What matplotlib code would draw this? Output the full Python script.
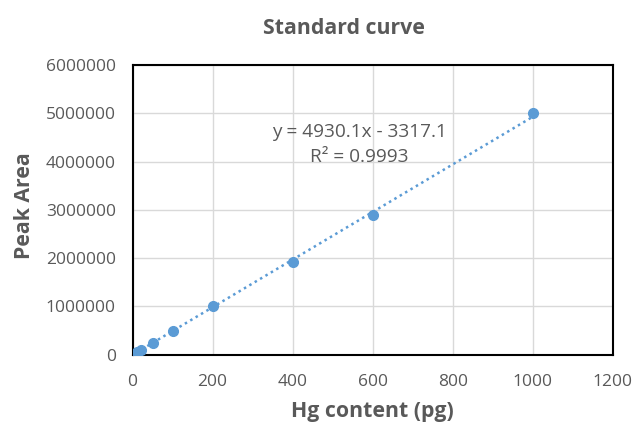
import matplotlib
matplotlib.use("Agg")
import matplotlib.pyplot as plt
import numpy as np

plt.rcParams['font.family'] = ['Open Sans', 'DejaVu Sans']

hg_content = [10, 20, 50, 100, 200, 400, 600, 1000]
peak_area = [50000, 100000, 250000, 500000, 1000000, 1910000, 2900000, 5000000]
slope = 4930.1
intercept = -3317.1
r_squared = 0.9993

x_ticks = [0, 200, 400, 600, 800, 1000, 1200]
y_ticks = [0, 1000000, 2000000, 3000000, 4000000, 5000000, 6000000]

blue = '#5B9BD5'
gray = '#595959'

fig = plt.figure(figsize=(6.32, 4.26), dpi=100)
ax = fig.add_axes([0.2097, 0.1674, 0.7598, 0.68])

xs = np.array([min(hg_content), max(hg_content)])
ax.plot(xs, slope * xs + intercept, linestyle=(0, (1, 1.5)), color=blue, linewidth=1.8, zorder=2)
ax.plot(hg_content, peak_area, 'o', color=blue, markersize=7, zorder=3)

ax.set_xlim(0, 1200)
ax.set_ylim(0, 6000000)
ax.set_xticks(x_ticks)
ax.set_yticks(y_ticks)
ax.set_xticklabels([str(t) for t in x_ticks])
ax.set_yticklabels([str(t) for t in y_ticks])
ax.grid(True, color='#D9D9D9', linewidth=1)
ax.set_axisbelow(True)
for s in ax.spines.values():
    s.set_color('black')
    s.set_linewidth(1.5)
ax.tick_params(length=0, labelsize=12.5, labelcolor=gray)
ax.tick_params(axis='x', pad=14)
ax.tick_params(axis='y', pad=12)

ax.text(0.472, 0.769, f'y = {slope}x - {abs(intercept)}', transform=ax.transAxes,
        ha='center', va='center', fontsize=13.7, color=gray)
ax.text(0.472, 0.683, f'R² = {r_squared}', transform=ax.transAxes,
        ha='center', va='center', fontsize=13.7, color=gray)

fig.text(343.5 / 632, 1 - 28 / 426, 'Standard curve', ha='center', va='center',
         fontsize=15.3, fontweight='bold', color=gray)
fig.text(372 / 632, 1 - 411 / 426, 'Hg content (pg)', ha='center', va='center',
         fontsize=15.3, fontweight='bold', color=gray)
fig.text(25 / 632, 1 - 206 / 426, 'Peak Area', ha='center', va='center', rotation=90,
         fontsize=15.3, fontweight='bold', color=gray)

fig.savefig('out.png', dpi=100)
